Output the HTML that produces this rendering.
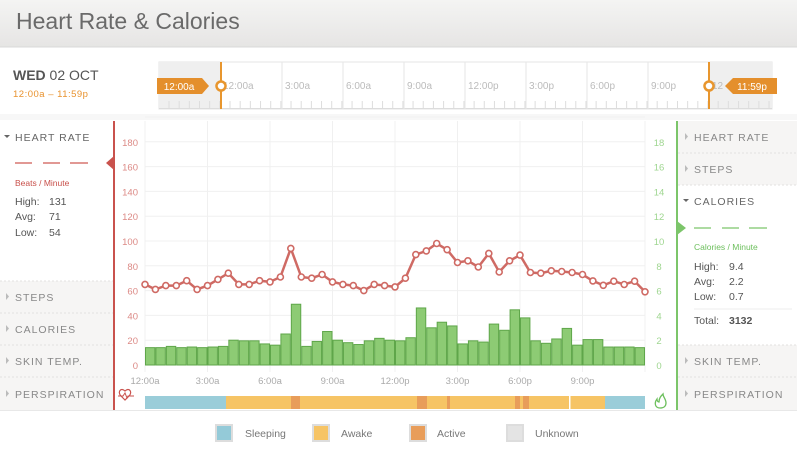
<!DOCTYPE html>
<html><head><meta charset="utf-8"><style>
body{margin:0;width:797px;height:455px;overflow:hidden;background:#fff;font-family:"Liberation Sans",sans-serif}
svg text{font-family:"Liberation Sans",sans-serif}
</style></head><body>
<svg id="s" width="797" height="455" xmlns="http://www.w3.org/2000/svg">
<defs><linearGradient id="tg" x1="0" y1="0" x2="0" y2="1"><stop offset="0" stop-color="#f4f4f3"/><stop offset="1" stop-color="#e6e5e4"/></linearGradient></defs>
<rect x="0" y="0" width="797" height="47" fill="url(#tg)"/>
<line x1="0" y1="47" x2="797" y2="47" fill="none" stroke="#d8d8d8"/>
<text x="16" y="29" font-size="23" fill="#6a6a6a">Heart Rate &amp; Calories</text>
<text x="13" y="80" font-size="14" fill="#555"><tspan font-weight="bold">WED</tspan> 02 OCT</text>
<text x="13" y="97" font-size="9.5" fill="#e8922e" letter-spacing="0.5">12:00a – 11:59p</text>
<!-- timeline -->
<rect x="159" y="62" width="613" height="47" fill="#fff" stroke="#e4e4e4"/>
<rect x="159" y="62" width="62" height="47" fill="#efefef"/>
<rect x="709" y="62" width="63" height="47" fill="#efefef"/>
<line x1="159" y1="108.5" x2="772" y2="108.5" stroke="#dcdcdc"/>
<g id="tl"></g>
<line x1="221" y1="62" x2="221" y2="109" stroke="#e8962e" stroke-width="2"/>
<line x1="709" y1="62" x2="709" y2="109" stroke="#e8962e" stroke-width="2"/>
<path d="M157 78 H202 L209 86 L202 94 H157 Z" fill="#e48f2c"/>
<text x="179" y="90" font-size="10" fill="#fff" text-anchor="middle">12:00a</text>
<path d="M777 78 H733 L725 86 L733 94 H777 Z" fill="#e48f2c"/>
<text x="752" y="90" font-size="10" fill="#fff" text-anchor="middle">11:59p</text>
<circle cx="221" cy="86" r="4.5" fill="#fff" stroke="#e8962e" stroke-width="2.5"/>
<circle cx="709" cy="86" r="4.5" fill="#fff" stroke="#e8962e" stroke-width="2.5"/>
<rect x="0" y="114" width="797" height="6" fill="#f3f3f3" opacity="0.7"/>
<!-- left panel -->
<rect x="0" y="121" width="113" height="289" fill="#fff"/>
<rect x="0" y="281" width="113" height="129" fill="#f6f5f4"/>
<g stroke="#e3e1df" stroke-dasharray="2,2"><line x1="0" y1="281" x2="113" y2="281"/><line x1="0" y1="313" x2="113" y2="313"/><line x1="0" y1="345" x2="113" y2="345"/><line x1="0" y1="377" x2="113" y2="377"/></g>
<g font-size="10.5" fill="#888" letter-spacing="1">
<text x="15" y="141" fill="#666">HEART RATE</text>
<text x="15" y="301">STEPS</text><text x="15" y="333">CALORIES</text><text x="15" y="365">SKIN TEMP.</text><text x="15" y="398">PERSPIRATION</text>
</g>
<path d="M4 135 h6 l-3 3z" fill="#666"/>
<g fill="#bbb"><path d="M6 293 v7 l3-3.5z"/><path d="M6 325 v7 l3-3.5z"/><path d="M6 357 v7 l3-3.5z"/><path d="M6 390 v7 l3-3.5z"/></g>
<g stroke="#cf5a55" stroke-width="1.2"><line x1="15" y1="163" x2="32" y2="163"/><line x1="43" y1="163" x2="60" y2="163"/><line x1="70" y1="163" x2="88" y2="163"/></g>
<text x="15" y="186" font-size="8.5" fill="#c8504b">Beats / Minute</text>
<g font-size="10.5" fill="#555"><text x="15" y="205">High:</text><text x="49" y="205">131</text><text x="15" y="220">Avg:</text><text x="49" y="220">71</text><text x="15" y="236">Low:</text><text x="49" y="236">54</text></g>
<line x1="114" y1="121" x2="114" y2="410" stroke="#c9524d" stroke-width="2"/>
<path d="M114 156 L106 163 L114 170Z" fill="#c9524d"/>
<!-- right panel -->
<rect x="678" y="121" width="119" height="64" fill="#f6f5f4"/>
<rect x="678" y="345" width="119" height="65" fill="#f6f5f4"/>
<g stroke="#e3e1df" stroke-dasharray="2,2"><line x1="678" y1="153" x2="797" y2="153"/><line x1="678" y1="185" x2="797" y2="185"/><line x1="678" y1="345" x2="797" y2="345"/><line x1="678" y1="377" x2="797" y2="377"/></g>
<line x1="694" y1="309" x2="792" y2="309" stroke="#eee"/>
<g font-size="10.5" fill="#888" letter-spacing="1">
<text x="694" y="141">HEART RATE</text><text x="694" y="173">STEPS</text><text x="694" y="205" fill="#666">CALORIES</text>
<text x="694" y="365">SKIN TEMP.</text><text x="694" y="398">PERSPIRATION</text></g>
<g fill="#bbb"><path d="M685 133 v7 l3-3.5z"/><path d="M685 165 v7 l3-3.5z"/><path d="M685 357 v7 l3-3.5z"/><path d="M685 390 v7 l3-3.5z"/></g>
<path d="M683 199 h6 l-3 3z" fill="#666"/>
<g stroke="#7cc56a" stroke-width="1.2"><line x1="694" y1="228" x2="711" y2="228"/><line x1="722" y1="228" x2="739" y2="228"/><line x1="749" y1="228" x2="767" y2="228"/></g>
<text x="694" y="250" font-size="8.5" fill="#6cbf5c">Calories / Minute</text>
<g font-size="10.5" fill="#555"><text x="694" y="270">High:</text><text x="729" y="270">9.4</text><text x="694" y="285">Avg:</text><text x="729" y="285">2.2</text><text x="694" y="300">Low:</text><text x="729" y="300">0.7</text>
<text x="694" y="324">Total:</text><text x="729" y="324" font-weight="bold">3132</text></g>
<line x1="677" y1="121" x2="677" y2="410" stroke="#7cc56a" stroke-width="2"/>
<path d="M677 221 L686 228 L677 235Z" fill="#7cc56a"/>
<g id="plot"></g>
<!-- icons -->
<path d="M121 396 c-4-4 0-9 4-5 c4-4 8 1 4 5 l-4 4z" fill="none" stroke="#c9524d" stroke-width="1.2"/>
<path d="M118 396 h5 l2-3 l2 5 l1-2 h6" fill="none" stroke="#c9524d" stroke-width="1"/>
<path d="M660 408 c-5 0-6-5-3-9 c0 2 1 3 2 3 c0-4 2-6 4-8 c0 3 3 5 3 9 c0 3-2 5-6 5z" fill="none" stroke="#6cbf5c" stroke-width="1.3"/>
<line x1="0" y1="410.5" x2="797" y2="410.5" stroke="#e8e8e8"/>
<!-- legend -->
<g font-size="10.5" fill="#777">
<rect x="216" y="425" width="16" height="16" fill="#94cad8" stroke="#ddd" stroke-width="2"/><text x="245" y="437">Sleeping</text>
<rect x="313" y="425" width="16" height="16" fill="#f6c465" stroke="#ddd" stroke-width="2"/><text x="341" y="437">Awake</text>
<rect x="410" y="425" width="16" height="16" fill="#e89d5a" stroke="#ddd" stroke-width="2"/><text x="437" y="437">Active</text>
<rect x="507" y="425" width="16" height="16" fill="#e4e4e4" stroke="#ddd" stroke-width="2"/><text x="535" y="437">Unknown</text>
</g>
</svg>
<script>
var NS="http://www.w3.org/2000/svg";
function el(p,t,a,txt){var e=document.createElementNS(NS,t);for(var k in a)e.setAttribute(k,a[k]);if(txt!=null)e.textContent=txt;p.appendChild(e);return e;}
var tl=document.getElementById('tl');
var labs=["12:00a","3:00a","6:00a","9:00a","12:00p","3:00p","6:00p","9:00p","12"];
for(var i=0;i<9;i++){var x=221+i*61;
 if(i>0&&i<8)el(tl,'line',{x1:x,y1:62,x2:x,y2:109,stroke:'#e6e6e6'});
 el(tl,'text',{x:x+(i==0?2:3),y:89,'font-size':10,fill:'#bbb'},labs[i]);}
for(var x=169;x<772;x+=10.17)el(tl,'line',{x1:x,y1:101,x2:x,y2:108,stroke:'#ddd'});
var p=document.getElementById('plot');
var L=145,R=645,Y0=365;
for(var v=0;v<=200;v+=20){var y=Y0-v*1.24;
 el(p,'line',{x1:L,y1:y,x2:R,y2:y,stroke:'#f0f0f0'});
 if(v<200){el(p,'text',{x:138,y:y+4,'font-size':9.5,fill:'#dc8a86','text-anchor':'end'},v);
 el(p,'text',{x:659,y:y+4,'font-size':9.5,fill:'#9fd690','text-anchor':'middle'},v/10);}}
for(var i=0;i<=8;i++){var x=L+i*62.5;el(p,'line',{x1:x,y1:121,x2:x,y2:372,stroke:'#f0f0f0'});
 if(i<8)el(p,'text',{x:x,y:384,'font-size':9.5,fill:'#aaa','text-anchor':'middle'},labs[i]);}
var bars=[1.4,1.4,1.5,1.4,1.45,1.4,1.45,1.5,2.0,1.95,1.95,1.7,1.6,2.5,4.9,1.5,1.9,2.7,2.0,1.8,1.65,1.95,2.15,2.0,1.95,2.2,4.6,3.0,3.45,3.15,1.7,1.95,1.85,3.3,2.8,4.45,3.8,1.95,1.75,2.1,2.95,1.6,2.05,2.05,1.45,1.45,1.45,1.4];
var bw=500/48;
bars.forEach(function(c,i){var h=c*12.4;el(p,'rect',{x:L+i*bw+0.5,y:Y0-h,width:bw-1,height:h,fill:'#8dcb74',stroke:'#5fa64a','stroke-width':1});});
var hr=[65,61,64,64,68,61,64,69,74,65,65,68,67,71,94,71,70,73,67,65,64,60,65,64,63,70,89,92,98,93,82.7,84,79,90,75,84,88.6,74.6,74,76,75.4,74.6,73,67.8,64.3,67.6,64.9,67.6,59];
var pts=hr.map(function(v,i){return (L+i*bw).toFixed(1)+","+(Y0-v*1.24).toFixed(1);});
el(p,'polyline',{points:pts.join(' '),fill:'none',stroke:'#cf6a64','stroke-width':2.5});
pts.forEach(function(s){var a=s.split(',');el(p,'circle',{cx:a[0],cy:a[1],r:3,fill:'#fff',stroke:'#cf6a64','stroke-width':1.6});});
// activity strip
function r(x1,x2,c){el(p,'rect',{x:x1,y:396,width:x2-x1,height:13,fill:c});}
r(145,226,'#9acdd9');r(226,605,'#f6c465');r(605,645,'#9acdd9');
[[291,300],[417,427],[447,450],[515,520],[523,529]].forEach(function(a){r(a[0],a[1],'#e89d5a');});
r(569,570.5,'#fff');
</script>
</body></html>
